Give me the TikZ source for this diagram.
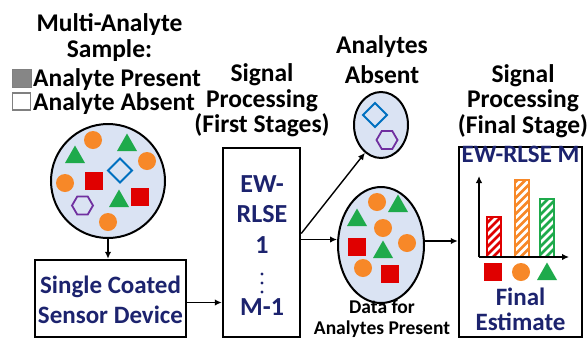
\documentclass[tikz,border=0pt]{standalone}
\usepackage{fontspec}
\setmainfont{Carlito}
\usetikzlibrary{shapes.geometric,arrows.meta}
\definecolor{lblue}{RGB}{218,227,243}
\definecolor{navyT}{RGB}{28,35,110}
\definecolor{redC}{RGB}{224,0,0}
\definecolor{orangeC}{RGB}{247,136,40}
\definecolor{greenC}{RGB}{30,170,75}
\definecolor{blueC}{RGB}{0,112,192}
\definecolor{purpleC}{RGB}{112,48,160}
\newcommand\tp{\rule{0pt}{.75em}}
\newcommand\hatchbar[4]{%
  \begin{scope}
    \clip (#1,257) rectangle (#2,#3);
    \foreach \k in {-90,-82,...,20} \draw[#4,line width=2.8pt] (#1+\k,257) -- ++(100,-100);
  \end{scope}
  \draw[#4,line width=2pt] (#1,257) rectangle (#2,#3);}
\begin{document}
\begin{tikzpicture}[x=1pt,y=-1pt,
 arr/.style={line width=1.4pt,-{Latex[length=7pt,width=6.5pt]}},
 ttl/.style={font=\fontsize{25.5}{25.5}\selectfont\bfseries,align=center,anchor=north,inner sep=0pt},
 btx/.style={font=\fontsize{25}{30}\selectfont\bfseries,text=navyT,align=center,anchor=north,inner sep=0pt},
 leg/.style={font=\fontsize{25.5}{25.5}\selectfont\bfseries,anchor=base west,inner sep=0pt},
 boxn/.style={draw,line width=2.5pt,inner sep=0pt,fill=white},
 blob/.style={draw,line width=2pt,fill=lblue,inner sep=0pt},
 pics/sq/.style={code={\fill[redC] (-9,-9) rectangle (9,9);}},
 pics/dot/.style={code={\fill[orangeC] (0,0) circle (9pt);}},
 pics/tri/.style={code={\fill[greenC] (0,-9.5) -- (10,8) -- (-10,8) -- cycle;}},
 pics/dia/.style={code={\draw[blueC,line width=1.8pt] (0,-12) -- (12,0) -- (0,12) -- (-12,0) -- cycle;}},
 pics/hex/.style={code={\draw[purpleC,line width=1.8pt] (-10.5,0) -- (-5.25,-9) -- (5.25,-9) -- (10.5,0) -- (5.25,9) -- (-5.25,9) -- cycle;}},
]
\useasboundingbox (0,0) rectangle (588,341);

% titles
\node[ttl,font=\fontsize{25.5}{26.5}\selectfont\bfseries] (tsample) at (109.5,12) {\tp Multi-Analyte\\Sample:};
\filldraw[fill=gray!95,draw=gray] (12,69) rectangle (31,87);
\draw[gray,line width=1.3pt,fill=white] (12.5,93) rectangle (30.5,110);
\node[leg] (lpres) at (33,86.5) {Analyte Present};
\node[leg] (labs) at (33,110) {Analyte Absent};
\node[ttl] (tst1) at (262,62.5) {\tp Signal\\Processing\\(First Stages)};
\node[ttl,font=\fontsize{25.5}{30}\selectfont\bfseries] (tabs) at (382,34) {\tp Analytes\\Absent};
\node[ttl] (tfin) at (523,63) {\tp Signal\\Processing\\(Final Stage)};

% main shapes
\node[blob,circle,minimum size=114pt] (sample) at (108,181) {};
\node[boxn,minimum width=151pt,minimum height=77pt] (sensor) at (110.5,298.5) {};
\node[boxn,minimum width=77pt,minimum height=189pt] (stage1) at (261.5,242.5) {};
\node[blob,ellipse,minimum width=54pt,minimum height=66pt] (absent) at (381,125) {};
\node[blob,ellipse,minimum width=86pt,minimum height=116pt] (present) at (381,245) {};
\node[boxn,minimum width=123pt,minimum height=190pt] (final) at (520.5,242) {};

% sample contents
\pic at (93,140) {dot};
\pic at (127,143) {tri};
\pic at (75,155) {tri};
\pic at (147,161) {dot};
\pic at (120,170.5) {dia};
\pic at (94,181) {sq};
\pic at (65,183) {dot};
\pic at (119,199) {tri};
\pic at (140,196.5) {sq};
\pic at (82.5,205.5) {hex};
\pic at (108,222) {dot};

% absent contents
\pic at (375,115) {dia};
\pic at (387,140) {hex};

% present contents
\pic at (377,202) {dot};
\pic at (398,204) {tri};
\pic at (357,218) {tri};
\pic at (383,228) {dot};
\pic at (356.5,247) {sq};
\pic at (407,243) {dot};
\pic at (383,250) {tri};
\pic at (363,268) {dot};
\pic at (390,274) {sq};

% box texts
\node[btx] (tsensor) at (110.5,274.25) {\tp Single Coated\\Sensor Device};
\node[btx,font=\fontsize{26}{30.5}\selectfont\bfseries] (tews) at (262,172.5) {\tp EW-\\RLSE\\1};
\fill[navyT] (262,274) circle (1.6pt) (262,283) circle (1.6pt) (262,292) circle (1.6pt);
\node[btx,anchor=base,font=\fontsize{26}{30.5}\selectfont\bfseries] (tm1) at (262,315) {M-1};
\node[btx,anchor=base] (tewm) at (520.5,162) {EW-RLSE M};
\node[btx,font=\fontsize{25}{25}\selectfont\bfseries] (tfinal) at (520.5,286.25) {\tp Final\\Estimate};
\node[ttl,font=\fontsize{19.5}{21}\selectfont\bfseries] (tdata) at (382,298.4) {\tp Data for\\Analytes Present};

% chart
\coordinate (org) at (479,257);
\coordinate (ytip) at (479,176);
\coordinate (xtip) at (569,257);
\hatchbar{487}{501}{217}{redC}
\hatchbar{514.5}{528.5}{180}{orangeC}
\hatchbar{540}{554}{199}{greenC}
\draw[arr] (org) -- (ytip);
\draw[arr] (org) -- (xtip);
\pic at (493,272) {sq};
\pic at (521,272) {dot};
\pic at (547,272) {tri};

% connectors
\draw[arr] (sample.south) -- (sample.south |- sensor.north);
\draw[arr] ([yshift=-4pt]sensor.east) -- ([yshift=-4pt]sensor.east -| stage1.west);
\draw[arr] ([yshift=9pt]stage1.east) -- (absent.240);
\draw[arr] ([yshift=3pt]stage1.east) -- ([yshift=3pt]stage1.east -| present.west);
\draw[arr] ([yshift=4pt]present.east) -- ([yshift=4pt]present.east -| final.west);
\end{tikzpicture}
\end{document}
